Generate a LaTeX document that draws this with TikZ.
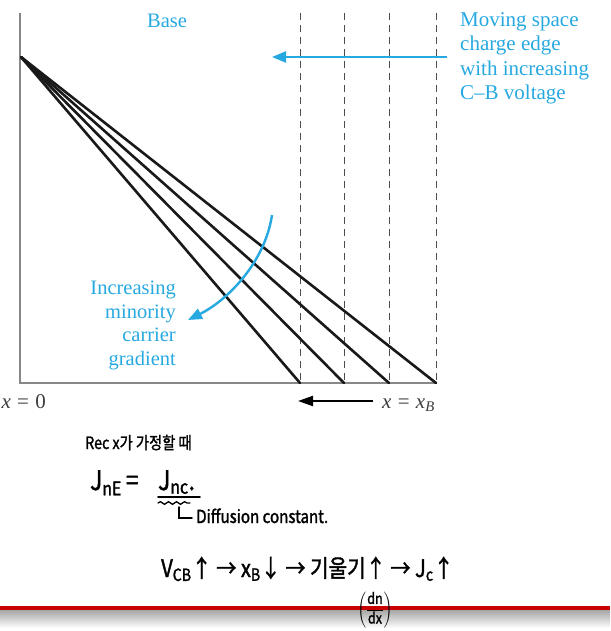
\documentclass[tikz,border=0pt]{standalone}
\usepackage{fontspec}
\setmainfont{Liberation Serif}
\newfontfamily\hw{Noto Sans CJK KR}[FakeBold=1.5,FakeStretch=0.84]
\usetikzlibrary{arrows.meta,decorations.pathmorphing}
\definecolor{cblue}{RGB}{38,168,224}
\definecolor{axisgray}{RGB}{135,135,135}
\definecolor{redline}{RGB}{200,0,0}
\definecolor{labgray}{RGB}{60,60,60}
\begin{document}
\begin{tikzpicture}[x=1pt,y=-1pt,
  profile/.style={line width=2.6pt, black!90},
  edgeline/.style={dash pattern=on 7pt off 5pt, line width=1pt, black!70},
  axisline/.style={line width=1.4pt, axisgray},
  bluetext/.style={text=cblue, inner sep=0pt},
  bluearrow/.style={cblue, line width=2.4pt, -{Triangle[length=14pt,width=11pt]}},
  blackarrow/.style={black, line width=2pt, -{Triangle[length=15pt,width=10pt]}},
  axlabel/.style={text=labgray, inner sep=0pt, font=\fontsize{21}{24}\selectfont},
  hand/.style={inner sep=0pt, text=black},
  handline/.style={line width=1.8pt, black, line cap=round}
]
\useasboundingbox (0,0) rectangle (610,631);

% axes
\coordinate (top) at (20,13);
\coordinate (origin) at (20,383);
\coordinate (n0) at (21,57);
\foreach \i/\x in {1/300,2/344,3/389,4/436}{
  \coordinate (e\i) at (\x,383);
  \coordinate (t\i) at (\x,13);
}
\foreach \i in {1,...,4}{ \draw[edgeline] (t\i) -- (e\i); }
\draw[axisline] (top) -- (origin) -- (e4);
\foreach \i in {1,...,4}{ \draw[profile, line cap=round] (n0) -- (e\i); }

% labels
\node[bluetext, font=\fontsize{20.5}{24}\selectfont] (base) at (167,21) {Base};
\node[bluetext, align=left, anchor=north west, font=\fontsize{21}{24.5}\selectfont] (moving) at (460,12)
  {Moving space\\charge edge\\with increasing\\C--B voltage};
\node[bluetext, align=right, anchor=north east, font=\fontsize{20.5}{23.5}\selectfont] (incr) at (176,281)
  {Increasing\\minority\\carrier\\gradient};

% blue arrows
\coordinate (ta) at (447,57);
\coordinate (tb) at (272,57);
\draw[bluearrow] (ta) -- (tb);
\coordinate (ca) at (272,215);
\coordinate (cb) at (188,320);
\draw[bluearrow] (ca) .. controls (265,262) and (228,300) .. (cb);

% bottom labels
\node[axlabel, anchor=base east] (x0) at (46,408) {\textit{x}\hspace{0.3em}=\hspace{0.3em}0};
\node[axlabel, anchor=base west] (xb) at (382,408) {\textit{x}\hspace{0.3em}=\hspace{0.3em}\textit{x}\textsubscript{\textit{B}}};
\coordinate (ba) at (373,401);
\coordinate (bb) at (298,401);
\draw[blackarrow] (ba) -- (bb);

% red line and shadow
\shade[top color=black!35, bottom color=white] (0,610) rectangle (610,628);
\fill[redline] (0,605.5) rectangle (610,610);

% handwriting
\node[hand, anchor=base west, font=\hw\fontsize{17}{18}\selectfont] (rec) at (85,449) {Rec x가 가정할 때};
\node[hand, anchor=base west, font=\hw\fontsize{27}{28}\selectfont] (jne) at (90,490) {J\textsubscript{nE}\hspace{0.15em}=};
\node[hand, anchor=base west, font=\hw\fontsize{27}{28}\selectfont] (jnc) at (158,490) {J\textsubscript{nc}.};
\coordinate (u1) at (158,497);
\coordinate (u2) at (200,497);
\draw[handline] (u1) -- (u2);
\coordinate (w1) at (158,503);
\coordinate (w2) at (190,503);
\draw[handline, line width=1.3pt, decorate, decoration={snake, amplitude=1.3pt, segment length=8pt}] (w1) -- (w2);
\coordinate (l1) at (179,507);
\coordinate (l2) at (179,518);
\coordinate (l3) at (192,518);
\draw[handline, line width=1.5pt] (l1) -- (l2) -- (l3);
\node[hand, anchor=base west, font=\hw\fontsize{18}{18}\selectfont] (diff) at (196,523) {Diffusion constant.};
\node[hand, anchor=base west, font=\hw\fontsize{24}{28}\selectfont] (vcb) at (161,577)
  {V\textsubscript{CB}↑ → x\textsubscript{B}↓ → 기울기↑ → J\textsubscript{c}↑};
\node[hand, font=\fontsize{15}{18}\selectfont] (dndx) at (375,610)
  {$\displaystyle\left(\frac{\mbox{\hw dn}}{\mbox{\hw dx}}\right)$};
\end{tikzpicture}
\end{document}
